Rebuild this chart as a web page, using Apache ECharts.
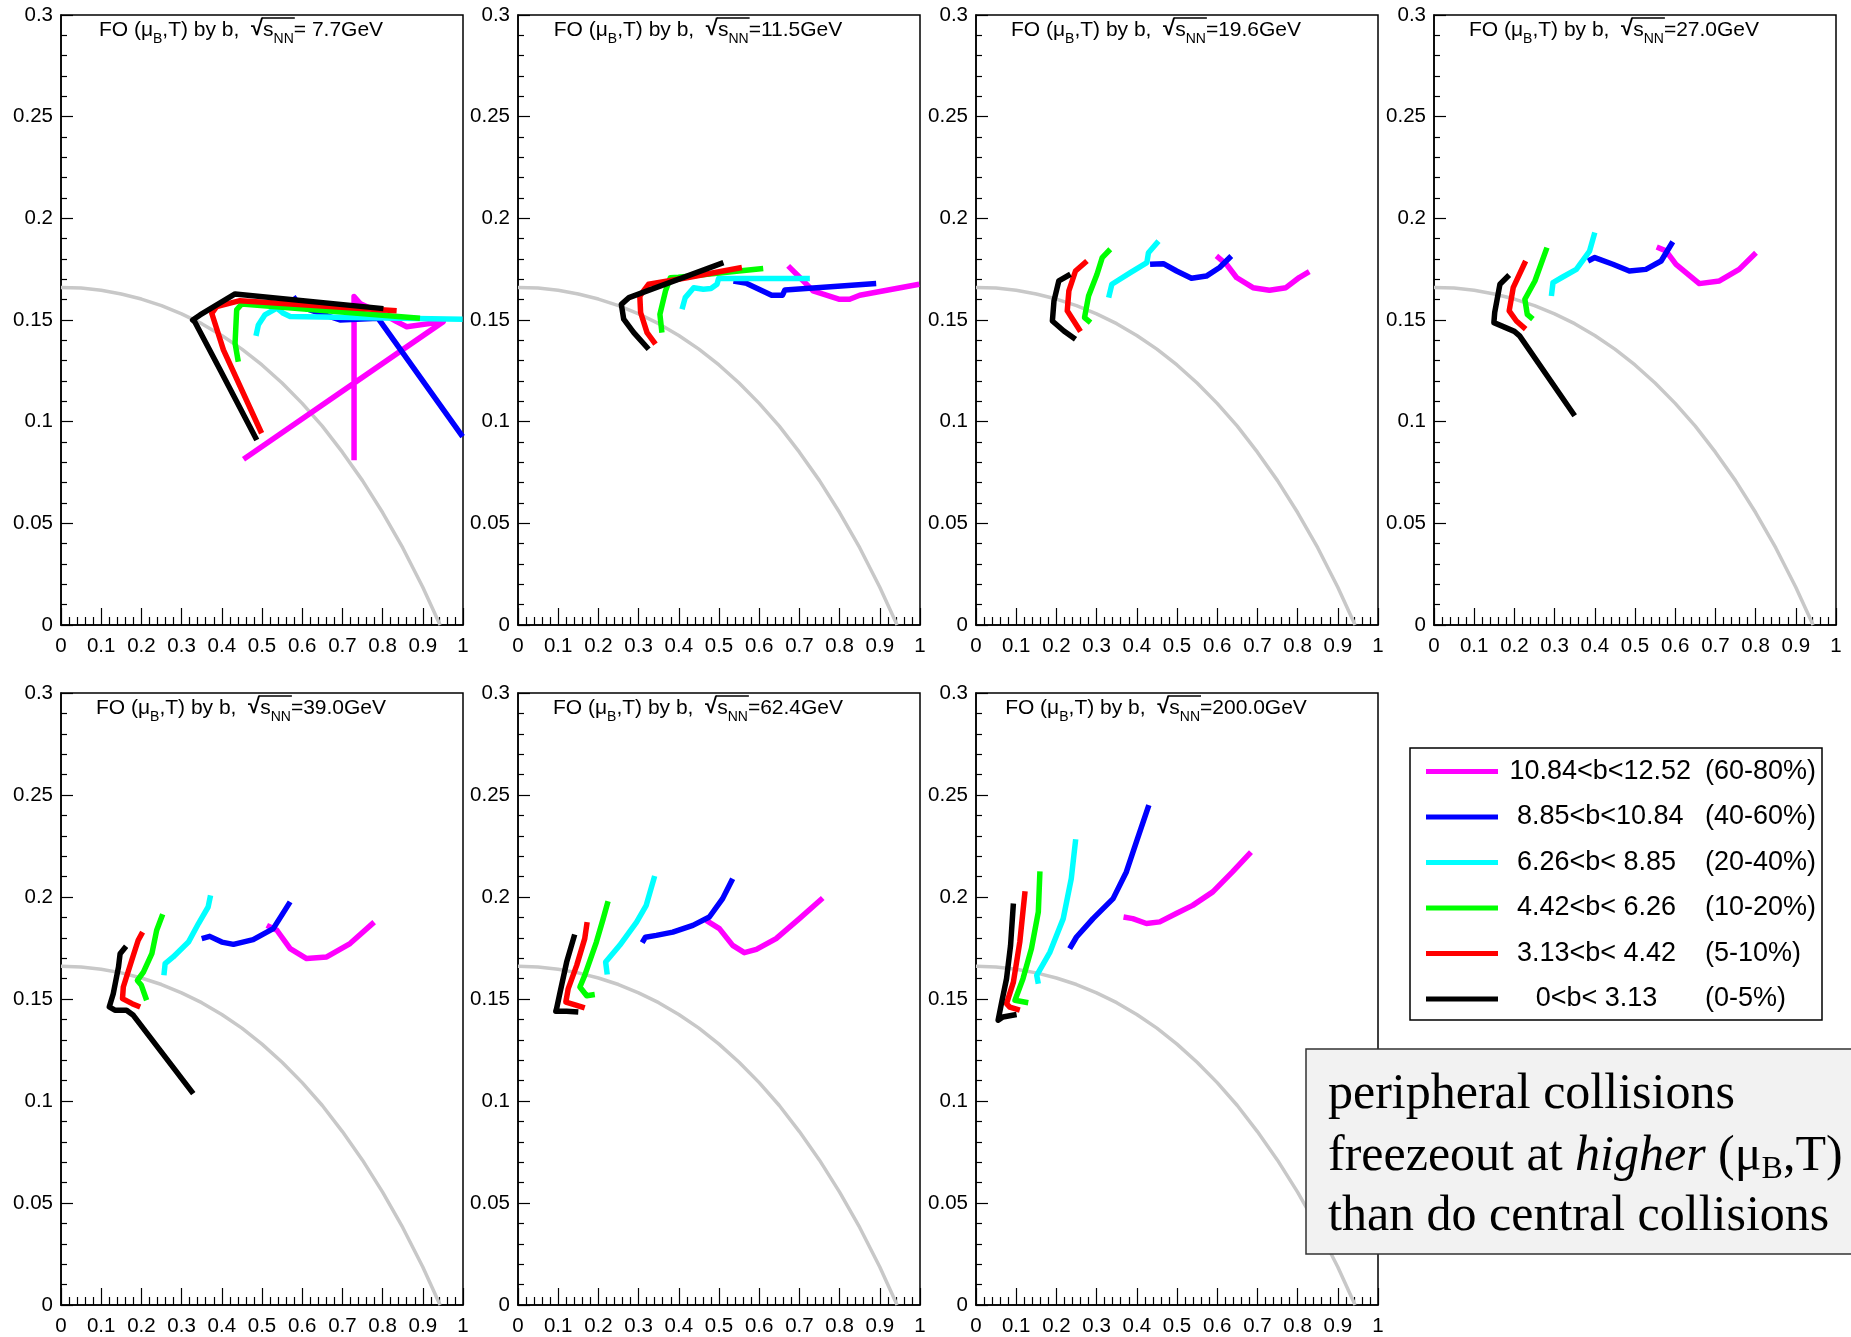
<!DOCTYPE html>
<html>
<head>
<meta charset="utf-8">
<script src="https://cdn.jsdelivr.net/npm/echarts@6/dist/echarts.min.js"></script>
<style>
html,body{margin:0;padding:0;background:#fff;}
#chart{width:1851px;height:1337px;}
</style>
</head>
<body>
<div id="chart"></div>
<script>
// ---------------- DATA ----------------
const energies = ['= 7.7GeV', '=11.5GeV', '=19.6GeV', '=27.0GeV', '=39.0GeV', '=62.4GeV', '=200.0GeV'];
const centralityNames = [
  '10.84<b<12.52 (60-80%)',
  '8.85<b<10.84 (40-60%)',
  '6.26<b< 8.85  (20-40%)',
  '4.42<b< 6.26  (10-20%)',
  '3.13<b< 4.42  (5-10%)',
  '0<b< 3.13  (0-5%)'
];
const xTicks = [0, 0.1, 0.2, 0.3, 0.4, 0.5, 0.6, 0.7, 0.8, 0.9, 1];
const yTicks = [0, 0.05, 0.1, 0.15, 0.2, 0.25, 0.3];

// grey freeze-out curve (muB, T)
const foCurve = [[0,0.166],[0.05,0.1657],[0.1,0.1646],[0.15,0.1628],[0.2,0.1603],[0.25,0.1571],[0.3,0.153],[0.35,0.1482],[0.4,0.1424],[0.45,0.1357],[0.5,0.1279],[0.55,0.119],[0.6,0.109],[0.65,0.0978],[0.7,0.085],[0.75,0.071],[0.8,0.0553],[0.85,0.038],[0.9,0.0186],[0.943,0]];

// 7.7 GeV
const mag_7p7 = [[0.729,0.081],[0.729,0.1615],[0.745,0.158],[0.80,0.153],[0.835,0.1492],[0.86,0.1467],[0.951,0.1492],[0.454,0.0815]];
const blu_7p7 = [[0.578,0.1615],[0.595,0.1566],[0.694,0.150],[0.789,0.1508],[0.999,0.0926]];
const cya_7p7 = [[0.485,0.1422],[0.491,0.1476],[0.507,0.1525],[0.537,0.1558],[0.553,0.1533],[0.570,0.1517],[0.999,0.1504]];
const grn_7p7 = [[0.441,0.1295],[0.433,0.1386],[0.437,0.155],[0.4495,0.1579],[0.893,0.1509]];
const red_7p7 = [[0.499,0.0943],[0.404,0.1353],[0.375,0.1533],[0.387,0.1566],[0.445,0.1595],[0.835,0.1545]];
const blk_7p7 = [[0.487,0.091],[0.396,0.1254],[0.333,0.149],[0.3275,0.150],[0.346,0.1525],[0.433,0.1628],[0.802,0.1556]];
// 11.5 GeV
const mag_11p5 = [[0.672,0.1766],[0.693,0.1725],[0.734,0.1643],[0.80,0.1602],[0.825,0.1602],[0.85,0.1622],[0.998,0.1676]];
const blu_11p5 = [[0.536,0.1692],[0.569,0.168],[0.631,0.1622],[0.658,0.1622],[0.664,0.1648],[0.891,0.168]];
const cya_11p5 = [[0.408,0.1553],[0.416,0.161],[0.437,0.1659],[0.461,0.1651],[0.48,0.1655],[0.495,0.1676],[0.499,0.1704],[0.726,0.1704]];
const grn_11p5 = [[0.358,0.1438],[0.353,0.1528],[0.367,0.1643],[0.379,0.1708],[0.399,0.171],[0.61,0.1753]];
const red_11p5 = [[0.342,0.1381],[0.321,0.1438],[0.305,0.1537],[0.303,0.1618],[0.325,0.1676],[0.42,0.1708],[0.557,0.1758]];
const blk_11p5 = [[0.325,0.1356],[0.288,0.1438],[0.263,0.1504],[0.257,0.1577],[0.276,0.161],[0.511,0.1782]];
// 19.6 GeV
const mag_19p6 = [[0.598,0.1815],[0.623,0.1774],[0.648,0.1709],[0.689,0.1659],[0.73,0.1646],[0.771,0.1659],[0.804,0.1709],[0.829,0.1738]];
const blu_19p6 = [[0.433,0.1774],[0.466,0.1777],[0.499,0.1741],[0.536,0.1705],[0.573,0.1716],[0.606,0.1758],[0.635,0.1815]];
const cya_19p6 = [[0.33,0.161],[0.338,0.1676],[0.384,0.1733],[0.425,0.1782],[0.429,0.1831],[0.454,0.1888]];
const grn_19p6 = [[0.285,0.1487],[0.27,0.1512],[0.28,0.1618],[0.301,0.1725],[0.314,0.1807],[0.334,0.1848]];
const red_19p6 = [[0.26,0.1443],[0.227,0.1545],[0.231,0.1643],[0.2475,0.1741],[0.276,0.179]];
const blk_19p6 = [[0.2475,0.1405],[0.2186,0.1446],[0.19,0.1495],[0.194,0.1594],[0.206,0.1692],[0.235,0.1725]];
// 27.0 GeV
const mag_27 = [[0.554,0.1859],[0.577,0.184],[0.602,0.1774],[0.66,0.1679],[0.71,0.1692],[0.759,0.1749],[0.801,0.1831]];
const blu_27 = [[0.383,0.179],[0.4,0.1807],[0.445,0.1774],[0.486,0.1741],[0.527,0.1749],[0.565,0.179],[0.594,0.1885]];
const cya_27 = [[0.292,0.1618],[0.296,0.1684],[0.318,0.1709],[0.354,0.1749],[0.387,0.1839],[0.4,0.193]];
const grn_27 = [[0.246,0.1504],[0.232,0.1528],[0.226,0.1602],[0.251,0.1692],[0.281,0.1856]];
const red_27 = [[0.228,0.1455],[0.205,0.1495],[0.187,0.1545],[0.197,0.1659],[0.228,0.179]];
const blk_27 = [[0.35,0.1029],[0.213,0.1422],[0.2,0.1444],[0.168,0.1471],[0.149,0.1487],[0.151,0.1537],[0.164,0.1676],[0.187,0.1721]];
// 39.0 GeV
const mag_39 = [[0.512,0.1861],[0.537,0.1837],[0.57,0.1747],[0.611,0.1698],[0.661,0.1706],[0.719,0.1772],[0.779,0.1877]];
const blu_39 = [[0.35,0.1796],[0.37,0.1807],[0.4,0.1779],[0.429,0.1768],[0.478,0.1791],[0.528,0.1845],[0.57,0.1976]];
const cya_39 = [[0.256,0.1616],[0.259,0.1673],[0.279,0.1706],[0.317,0.1779],[0.342,0.187],[0.366,0.1951],[0.372,0.2008]];
const grn_39 = [[0.213,0.1494],[0.2,0.1567],[0.19,0.1591],[0.205,0.1632],[0.226,0.1722],[0.238,0.1837],[0.253,0.1915]];
const red_39 = [[0.197,0.1461],[0.177,0.1477],[0.153,0.1502],[0.155,0.1559],[0.176,0.169],[0.192,0.1788],[0.203,0.1828]];
const blk_39 = [[0.329,0.1036],[0.18,0.142],[0.163,0.1445],[0.134,0.1445],[0.12,0.1461],[0.13,0.1526],[0.143,0.1657],[0.147,0.1722],[0.162,0.1758]];
// 62.4 GeV
const mag_62 = [[0.468,0.1885],[0.501,0.1845],[0.534,0.1763],[0.563,0.1727],[0.593,0.1743],[0.642,0.1796],[0.7,0.1894],[0.758,0.1995]];
const blu_62 = [[0.309,0.1776],[0.317,0.1803],[0.344,0.1812],[0.385,0.1828],[0.435,0.1861],[0.476,0.1902],[0.509,0.1992],[0.534,0.209]];
const cya_62 = [[0.222,0.162],[0.218,0.1681],[0.253,0.1763],[0.295,0.1877],[0.319,0.1959],[0.34,0.2103]];
const grn_62 = [[0.191,0.1522],[0.171,0.1516],[0.154,0.1559],[0.166,0.1616],[0.195,0.1779],[0.212,0.1894],[0.224,0.1979]];
const red_62 = [[0.166,0.1456],[0.144,0.147],[0.119,0.1485],[0.125,0.1551],[0.146,0.1665],[0.166,0.1796],[0.172,0.1877]];
const blk_62 = [[0.15,0.1436],[0.121,0.144],[0.094,0.144],[0.096,0.1453],[0.103,0.1518],[0.121,0.1681],[0.141,0.1816]];
// 200.0 GeV
const mag_200 = [[0.367,0.1902],[0.39,0.1894],[0.424,0.187],[0.457,0.1878],[0.498,0.1919],[0.539,0.1959],[0.589,0.2025],[0.638,0.2123],[0.684,0.222]];
const blu_200 = [[0.233,0.1747],[0.25,0.1804],[0.291,0.1894],[0.341,0.1992],[0.374,0.2123],[0.399,0.227],[0.43,0.245]];
const cya_200 = [[0.155,0.1575],[0.151,0.1616],[0.184,0.173],[0.217,0.1894],[0.237,0.209],[0.248,0.2283]];
const grn_200 = [[0.13,0.1482],[0.097,0.1494],[0.117,0.16],[0.138,0.1747],[0.155,0.1926],[0.159,0.2126]];
const red_200 = [[0.109,0.1445],[0.084,0.146],[0.076,0.1477],[0.093,0.1583],[0.109,0.178],[0.122,0.2028]];
const blk_200 = [[0.101,0.1424],[0.067,0.1412],[0.055,0.1396],[0.064,0.1485],[0.076,0.16],[0.086,0.1763],[0.093,0.1968]];

const panelData = [
  [mag_7p7, blu_7p7, cya_7p7, grn_7p7, red_7p7, blk_7p7],
  [mag_11p5, blu_11p5, cya_11p5, grn_11p5, red_11p5, blk_11p5],
  [mag_19p6, blu_19p6, cya_19p6, grn_19p6, red_19p6, blk_19p6],
  [mag_27, blu_27, cya_27, grn_27, red_27, blk_27],
  [mag_39, blu_39, cya_39, grn_39, red_39, blk_39],
  [mag_62, blu_62, cya_62, grn_62, red_62, blk_62],
  [mag_200, blu_200, cya_200, grn_200, red_200, blk_200]
];

// ---------------- STYLE / LAYOUT ----------------
const colors = ['#ff00ff', '#0000ff', '#00ffff', '#00ff00', '#ff0000', '#000000'];
const gridLefts = [61, 518, 976, 1434, 61, 518, 976];
const gridTops = [15, 15, 15, 15, 693, 693, 693];
const gridHeights = [610, 610, 610, 610, 612, 612, 612];
const gridWidth = 402;
const SANS = '"Liberation Sans", Arial, Helvetica, sans-serif';
const SERIF = '"Liberation Serif", "Times New Roman", serif';

const mctx = document.createElement('canvas').getContext('2d');
function measure(t, font) { mctx.font = font; return mctx.measureText(t).width; }

function layoutFrags(xStart, yc, frags, z) {
  const els = [];
  const pos = [];
  let x = xStart;
  frags.forEach(f => {
    const w = measure(f.t, f.font);
    els.push({
      type: 'text', x: x, y: yc + (f.dy || 0), z: z, silent: true,
      style: { text: f.t, font: f.font, fill: '#000', align: 'left', textAlign: 'left',
               verticalAlign: 'middle', textVerticalAlign: 'middle' }
    });
    pos.push([x, x + w]);
    x += w;
  });
  return { els, pos, end: x };
}
function fragsWidth(frags) { return frags.reduce((s, f) => s + measure(f.t, f.font), 0); }

const graphics = [];
const TF = '21px ' + SANS, TFS = '14px ' + SANS;
energies.forEach((e, i) => {
  const frags = [
    { t: 'FO (\u03bc', font: TF },
    { t: 'B', font: TFS, dy: 9 },
    { t: ',T) by b,  ', font: TF },
    { t: '\u221a', font: 'bold 22px ' + SANS, dy: -1 },
    { t: 's', font: TF },
    { t: 'NN', font: TFS, dy: 9 },
    { t: e, font: TF }
  ];
  const w = fragsWidth(frags);
  const x0 = gridLefts[i] + 180 - w / 2;
  const yc = gridTops[i] + 15;
  const r = layoutFrags(x0, yc, frags, 50);
  r.els.forEach(el => graphics.push(el));
  graphics.push({
    type: 'line', z: 50, silent: true,
    shape: { x1: r.pos[3][1] - 1, y1: yc - 12, x2: r.pos[5][1] + 1, y2: yc - 12 },
    style: { stroke: '#000', lineWidth: 1.3 }
  });
});

// legend frame
graphics.push({ type: 'rect', z: 40, silent: true,
  shape: { x: 1410, y: 748, width: 412, height: 272 },
  style: { fill: '#fff', stroke: '#000', lineWidth: 1.5 } });

// annotation box
graphics.push({ type: 'rect', z: 90, silent: true,
  shape: { x: 1306, y: 1049, width: 600, height: 205 },
  style: { fill: '#f2f2f2', stroke: '#333', lineWidth: 1.5 } });
const BF = '50px ' + SERIF, BFI = 'italic 50px ' + SERIF, BFS = '32px ' + SERIF;
[
  [{ t: 'peripheral collisions', font: BF }],
  [{ t: 'freezeout at ', font: BF }, { t: 'higher', font: BFI }, { t: ' (\u03bc', font: BF },
   { t: 'B', font: BFS, dy: 13 }, { t: ',T)', font: BF }],
  [{ t: 'than do central collisions', font: BF }]
].forEach((line, k) => {
  const r = layoutFrags(1328, [1095, 1157, 1217][k], line, 95);
  r.els.forEach(el => graphics.push(el));
});

// ---------------- OPTION ----------------
const grids = [], xAxes = [], yAxes = [], series = [];
for (let i = 0; i < 7; i++) {
  grids.push({ left: gridLefts[i], top: gridTops[i], width: gridWidth, height: gridHeights[i],
               show: true, borderColor: '#000', borderWidth: 1.5, backgroundColor: 'transparent' });
  xAxes.push({
    gridIndex: i, type: 'value', min: xTicks[0], max: xTicks[xTicks.length - 1], interval: xTicks[1] - xTicks[0],
    axisLine: { show: true, lineStyle: { color: '#000', width: 1.5 } },
    axisTick: { show: true, inside: true, length: 17, lineStyle: { color: '#000', width: 1.2 } },
    minorTick: { show: true, splitNumber: 5, length: 8, lineStyle: { color: '#000', width: 1.2 } },
    splitLine: { show: false },
    axisLabel: { color: '#000', fontSize: 20.5, fontFamily: SANS, margin: 11 }
  });
  yAxes.push({
    gridIndex: i, type: 'value', min: yTicks[0], max: yTicks[yTicks.length - 1], interval: yTicks[1] - yTicks[0],
    axisLine: { show: true, lineStyle: { color: '#000', width: 1.5 } },
    axisTick: { show: true, inside: true, length: 12, lineStyle: { color: '#000', width: 1.2 } },
    minorTick: { show: true, splitNumber: 5, length: 6, lineStyle: { color: '#000', width: 1.2 } },
    splitLine: { show: false },
    axisLabel: { color: '#000', fontSize: 20.5, fontFamily: SANS, margin: 8 }
  });
  series.push({
    type: 'line', xAxisIndex: i, yAxisIndex: i, data: foCurve, symbol: 'none', silent: true, z: 1,
    lineStyle: { color: '#c8c8c8', width: 3.5 }, itemStyle: { color: '#c8c8c8' }
  });
  panelData[i].forEach((d, k) => {
    series.push({
      name: centralityNames[k], type: 'line', xAxisIndex: i, yAxisIndex: i, data: d,
      symbol: 'none', silent: true, z: 2 + k,
      lineStyle: { color: colors[k], width: 5.5, join: 'round', cap: 'butt' },
      itemStyle: { color: colors[k] }
    });
  });
}

const option = {
  animation: false,
  backgroundColor: '#fff',
  grid: grids, xAxis: xAxes, yAxis: yAxes, series: series,
  legend: {
    data: centralityNames, orient: 'vertical', left: 1426, top: 758, padding: 0,
    itemWidth: 72, itemHeight: 5, itemGap: 18.5, icon: 'rect', selectedMode: false, z: 45,
    formatter: function (name) {
      const k = name.indexOf('(');
      return '{a|' + name.slice(0, k) + '}{b|' + name.slice(k) + '}';
    },
    textStyle: {
      color: '#000', fontFamily: SANS, fontSize: 27,
      rich: {
        a: { width: 202, align: 'right', fontSize: 27, lineHeight: 30, fontFamily: SANS, color: '#000' },
        b: { fontSize: 27, lineHeight: 30, fontFamily: SANS, color: '#000' }
      }
    }
  },
  graphic: { elements: graphics }
};

const chart = echarts.init(document.getElementById('chart'), null, { renderer: 'canvas' });
chart.setOption(option);
</script>
</body>
</html>
